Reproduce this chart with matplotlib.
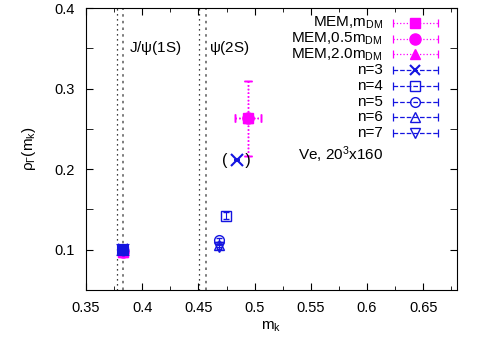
import numpy as np
import matplotlib.pyplot as plt

plt.rcParams['font.family'] = ['Liberation Sans', 'DejaVu Sans']
plt.rcParams['mathtext.fontset'] = 'custom'
plt.rcParams['mathtext.rm'] = 'Liberation Sans'
plt.rcParams['mathtext.it'] = 'Liberation Sans'

# states: J/psi(1S), psi(2S)
jpsi_lines = [0.3775, 0.383]
psi2s_lines = [0.4507, 0.4563]

# MEM results (m_DM, 0.5 m_DM, 2.0 m_DM)
mem_x = [0.383, 0.494]
mem_y = [0.097, 0.263]
mem_xerr = [0.0, 0.0115]
mem_yerr = [0.0, 0.047]

# fit results for n=3..7
n_labels = ['n=3', 'n=4', 'n=5', 'n=6', 'n=7']
n_markers = ['x', 's', 'o', '^', 'v']
n_x_jpsi = [0.383, 0.383, 0.383, 0.383, 0.383]
n_y_jpsi = [0.101, 0.1, 0.1, 0.1, 0.1]
n_x_psi = [0.484, 0.4743, 0.4687, 0.4687, 0.4687]
n_y_psi = [0.211, 0.1425, 0.112, 0.106, 0.104]
n_yerr_psi = [0.0, 0.004, 0.003, 0.003, 0.003]

mem_labels = [r'MEM,m$_{\rm DM}$', r'MEM,0.5m$_{\rm DM}$', r'MEM,2.0m$_{\rm DM}$']
mem_markers = ['s', 'o', '^']

magenta = '#ff00ff'
blue = '#1414e0'

fig = plt.figure(figsize=(4.81, 3.38), dpi=100)
ax = fig.add_axes([0.179, 0.142, 0.771, 0.834])

ax.axvline(jpsi_lines[0], color='black', linestyle=(0, (1, 3)), linewidth=0.9)
ax.axvline(jpsi_lines[1], color='#666666', linestyle=(0, (1.5, 2.5)), linewidth=1.2)
ax.axvline(psi2s_lines[0], color='black', linestyle=(0, (1, 3)), linewidth=0.9)
ax.axvline(psi2s_lines[1], color='#666666', linestyle=(0, (1.5, 2.5)), linewidth=1.2)

# MEM points (three sets overlap)
for mk, ms in [('^', 7), ('o', 8), ('s', 7)]:
    eb = ax.errorbar(mem_x, mem_y, xerr=mem_xerr, yerr=mem_yerr, fmt=mk, color=magenta,
                     ms=ms, elinewidth=1.0, capsize=3, zorder=3)
    for b in eb[2]:
        b.set_linestyle(':')

for i, mk in enumerate(n_markers):
    cross = mk == 'x'
    ax.plot(n_x_jpsi[i], n_y_jpsi[i], mk, color=blue, ms=7,
            mfc='none' if cross else blue, mew=1.5, zorder=4)
    ax.errorbar(n_x_psi[i], n_y_psi[i], yerr=n_yerr_psi[i], fmt=mk, color=blue,
                ms=8 if cross else 7, mfc='none', mew=1.5 if cross else 1.0,
                elinewidth=0.8, capsize=2, zorder=4)

ax.text(n_x_psi[0], n_y_psi[0], '(    )', ha='center', va='center', fontsize=11.5)

ax.text(0.3885, 0.351, r'J/$\psi$(1S)', fontsize=11, va='center')
ax.text(0.459, 0.351, r'$\psi$(2S)', fontsize=11, va='center')

# key, gnuplot style: right-aligned text, sample line with end caps
tr = ax.transAxes
x_text, x0, x1 = (383 - 86) / 371, (393 - 86) / 371, (438 - 86) / 371
entries = [(l, m, magenta, ':') for l, m in zip(mem_labels, mem_markers)] + \
          [(l, m, blue, '--') for l, m in zip(n_labels, n_markers)]
for i, (lab, mk, col, ls) in enumerate(entries):
    yp = 1 - (23 + 15.7 * i - 8) / 282
    ax.text(x_text, yp, lab, transform=tr, ha='right', va='center', fontsize=11)
    ax.plot([x0, x1], [yp, yp], color=col, ls=ls, lw=0.9, transform=tr, clip_on=False)
    ax.plot([x0, x1], [yp, yp], ls='none', marker='|', ms=6, color=col, mew=0.9,
            transform=tr, clip_on=False)
    filled = col == magenta
    ax.plot([(x0 + x1) / 2], [yp], ls='none', marker=mk, color=col,
            ms=8 if mk == 'o' and filled else 7, mfc=col if filled else 'none',
            mew=1.5 if mk == 'x' else 1.0, transform=tr, clip_on=False)

ax.text(x_text, 1 - (155 - 8) / 282, r'Ve, 20$^3$x160', transform=tr,
        ha='right', va='center', fontsize=11)

ax.set_xlim(0.35, 0.68)
ax.set_ylim(0.05, 0.4)
ax.set_xticks(np.arange(0.35, 0.66, 0.05))
ax.set_xticklabels(['0.35', '0.4', '0.45', '0.5', '0.55', '0.6', '0.65'])
ax.set_xticks(np.arange(0.375, 0.68, 0.05), minor=True)
ax.set_yticks([0.1, 0.2, 0.3, 0.4])
ax.set_yticks([0.05, 0.15, 0.25, 0.35], minor=True)
ax.tick_params(which='both', direction='in', top=True, right=True, labelsize=10.5)
ax.tick_params(which='major', length=5)
ax.tick_params(which='minor', length=3)
ax.tick_params(axis='y', which='minor', length=5)
ax.tick_params(axis='x', pad=8)
ax.tick_params(axis='y', pad=8)

ax.set_xlabel(r'm$_{\rm k}$', fontsize=11, labelpad=3)
ax.set_ylabel(r'$\rho_\Gamma$(m$_{\rm k}$)', fontsize=11, labelpad=12)

fig.savefig('out.png', dpi=100)
